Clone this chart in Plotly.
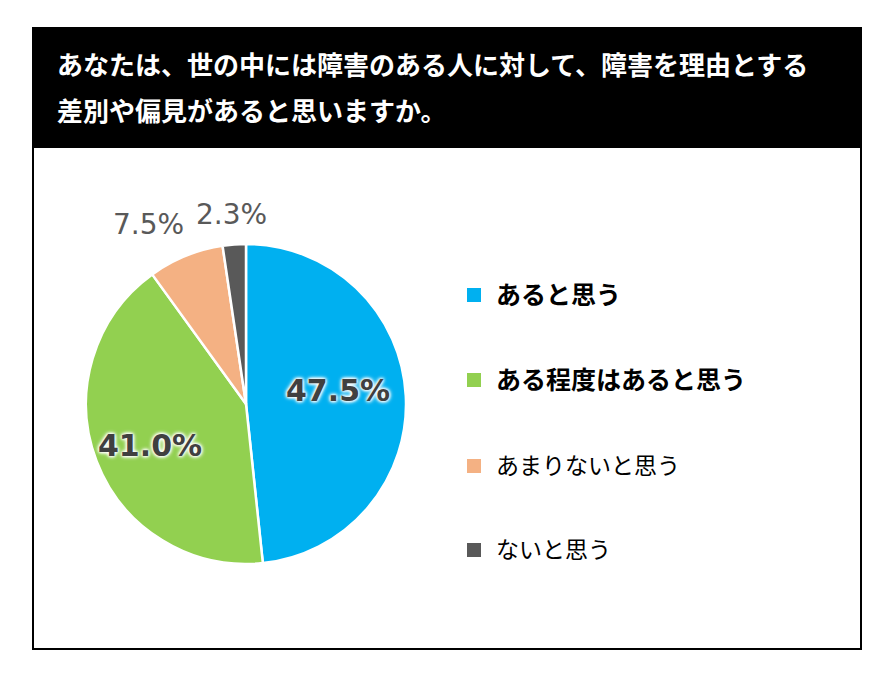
import math
import plotly.graph_objects as go

categories = ["あると思う", "ある程度はあると思う", "あまりないと思う", "ないと思う"]
values = [47.5, 41.0, 7.5, 2.3]
colors = ["#00B0F0", "#92D050", "#F4B183", "#595959"]
legend_bold = [True, True, False, False]
title_lines = ["あなたは、世の中には障害のある人に対して、障害を理由とする",
               "差別や偏見があると思いますか。"]

# label placement: radius (fraction of pie radius) and angular nudge (deg) per slice
label_radius = [0.58, 0.655, 1.275, 1.185]
label_shift = [5.6, 2.6, 6.5, 0.3]
label_inside = [True, True, False, False]

W, H = 891, 678
def px(x):
    return x / W
def py(y):
    return 1 - y / H

CX, CY, R = 246, 404, 160

fig = go.Figure()
fig.add_trace(go.Pie(
    labels=categories,
    values=values,
    sort=False,
    direction="clockwise",
    rotation=0,
    marker=dict(colors=colors, line=dict(color="white", width=2.5)),
    textinfo="none",
    hoverinfo="label+value",
    showlegend=False,
    domain=dict(x=[px(CX - R), px(CX + R)], y=[py(CY + R), py(CY - R)]),
))

shapes = [
    dict(type="rect", xref="paper", yref="paper", x0=px(33), x1=px(861), y0=py(649), y1=py(28),
         line=dict(color="black", width=2), fillcolor="white", layer="below"),
    dict(type="rect", xref="paper", yref="paper", x0=px(33), x1=px(861), y0=py(148), y1=py(28),
         line=dict(color="black", width=0), fillcolor="black", layer="below"),
]

annotations = []
for i, line in enumerate(title_lines):
    annotations.append(dict(
        text=line, xref="paper", yref="paper", x=px(55), y=py([63, 110][i]),
        xanchor="left", yanchor="middle", showarrow=False,
        font=dict(family="Noto Sans CJK JP", size=26, color="white", weight="bold"),
    ))

# percentage labels placed around slice mid-angles
total = sum(values)
cum = 0.0
glow = "0 0 3px #fff, 0 0 3px #fff, 0 0 4px #fff, 0 0 5px #fff"
for i, v in enumerate(values):
    mid = (cum + v / 2) / total * 360.0  # clockwise from 12 o'clock
    cum += v
    ang = math.radians(90 - mid + label_shift[i])
    d = label_radius[i] * R
    lx = CX + d * math.cos(ang)
    ly = CY - d * math.sin(ang)
    if label_inside[i]:
        f = dict(family="DejaVu Sans", size=30, color="#404040", weight="bold", shadow=glow)
    else:
        f = dict(family="DejaVu Sans", size=28, color="#595959")
    annotations.append(dict(
        text=f"{v:.1f}%", xref="paper", yref="paper", x=px(lx), y=py(ly),
        xanchor="center", yanchor="middle", showarrow=False, font=f,
    ))

legend_y = [295, 380, 466, 550]
for i, cat in enumerate(categories):
    shapes.append(dict(type="rect", xref="paper", yref="paper",
                       x0=px(467), x1=px(481), y0=py(legend_y[i] + 7), y1=py(legend_y[i] - 7),
                       line=dict(width=0), fillcolor=colors[i]))
    annotations.append(dict(
        text=cat, xref="paper", yref="paper", x=px(494), y=py(legend_y[i] - 2),
        xanchor="left", yanchor="middle", showarrow=False,
        font=dict(family="Noto Sans CJK JP", size=25 if legend_bold[i] else 23, color="black",
                  weight="bold" if legend_bold[i] else "normal"),
    ))

fig.update_layout(
    width=W, height=H,
    margin=dict(l=0, r=0, t=0, b=0),
    paper_bgcolor="white",
    shapes=shapes,
    annotations=annotations,
)

fig.write_html("out.html", config={"displayModeBar": False},
               post_script="document.body.style.margin='0';document.body.style.padding='0';")
